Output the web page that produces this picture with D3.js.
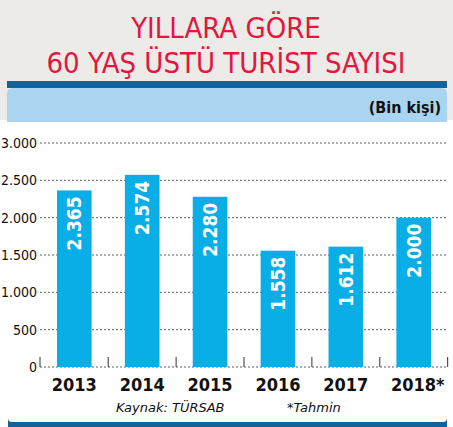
<!DOCTYPE html>
<html><head><meta charset="utf-8">
<script src="https://cdn.jsdelivr.net/npm/d3@7"></script>
<style>
body{margin:0;background:#fff;}
text{font-family:"Liberation Sans Narrow","DejaVu Sans Condensed",sans-serif;}
</style></head><body>
<div id="chart"></div>
<script>
var years = ['2013', '2014', '2015', '2016', '2017', '2018*'];
var values = [2365, 2574, 2280, 1558, 1612, 2000];
var labels = ['2.365', '2.574', '2.280', '1.558', '1.612', '2.000'];
var yTicks = [0, 500, 1000, 1500, 2000, 2500, 3000];
var yTickLabels = ['0', '500', '1.000', '1.500', '2.000', '2.500', '3.000'];

var W = 453, H = 427;
var margin = {top: 143, right: 5, bottom: 60, left: 40};
var width = W - margin.left - margin.right;
var height = 367 - margin.top;

var svg = d3.select('#chart').append('svg').attr('width', W).attr('height', H);

// header
svg.append('rect').attr('x', 0).attr('y', 0).attr('width', W).attr('height', 120).attr('fill', '#ecebe8');
svg.append('rect').attr('x', 7).attr('y', 81).attr('width', 440).attr('height', 7).attr('fill', '#13629a');
svg.append('path').attr('d', 'M7,122 V94 Q7,88 13,88 H441 Q447,88 447,94 V122 Z').attr('fill', '#a9d5f0');
svg.append('text').attr('x', 226).attr('y', 38).attr('text-anchor', 'middle')
  .style('font-size', '29px').style('fill', '#e3163f').text('YILLARA GÖRE');
svg.append('text').attr('x', 226).attr('y', 73).attr('text-anchor', 'middle')
  .style('font-size', '29px').style('fill', '#e3163f').text('60 YAŞ ÜSTÜ TURİST SAYISI');
svg.append('text').attr('x', 441).attr('y', 113).attr('text-anchor', 'end')
  .style('font-size', '16px').style('font-weight', 'bold').style('fill', '#111').text('(Bin kişi)');
svg.append('rect').attr('x', 0).attr('y', 122).attr('width', W).attr('height', H - 122).attr('fill', '#fff');

var g = svg.append('g').attr('transform', 'translate(' + margin.left + ',' + margin.top + ')');

var x = d3.scaleBand().domain(years).range([0, width]).paddingInner(0.49).paddingOuter(0.25);
var y = d3.scaleLinear().domain([0, 3000]).range([height, 0]);

// gridlines
g.selectAll('.grid').data(yTicks).enter().append('line')
  .attr('x1', 0).attr('x2', width).attr('y1', function (d) { return y(d); }).attr('y2', function (d) { return y(d); })
  .style('stroke', '#333').style('stroke-width', 0.8).style('stroke-dasharray', '2,2');

g.selectAll('.ylab').data(yTicks).enter().append('text')
  .attr('x', -3).attr('y', function (d) { return y(d) + 5; }).attr('text-anchor', 'end')
  .style('font-size', '14px').style('fill', '#111')
  .text(function (d, i) { return yTickLabels[i]; });

// bars
g.selectAll('.bar').data(values).enter().append('rect')
  .attr('x', function (d, i) { return x(years[i]); })
  .attr('width', x.bandwidth())
  .attr('y', function (d) { return y(d); })
  .attr('height', function (d) { return height - y(d); })
  .attr('fill', '#0aaee6');

g.selectAll('.val').data(values).enter().append('text')
  .attr('transform', function (d, i) {
    return 'translate(' + (x(years[i]) + x.bandwidth() / 2 + 7) + ',' + (y(d) + 6) + ') rotate(-90)';
  })
  .attr('text-anchor', 'end')
  .style('font-size', '19px').style('font-weight', 'bold').style('fill', '#fff')
  .text(function (d, i) { return labels[i]; });

// axis lines and ticks
g.append('line').attr('x1', 0).attr('x2', 0).attr('y1', height - 10).attr('y2', height).style('stroke', '#333');
var step = x.step();
years.forEach(function (d, i) {
  var tx = x(d) + x.bandwidth() + (step - x.bandwidth()) / 2;
  g.append('line').attr('x1', tx).attr('x2', tx).attr('y1', height - 10).attr('y2', height).style('stroke', '#333');
});

g.selectAll('.xlab').data(years).enter().append('text')
  .attr('x', function (d) { return x(d) + x.bandwidth() / 2 + (d.indexOf('*') > 0 ? 4 : 0); })
  .attr('y', height + 24).attr('text-anchor', 'middle')
  .style('font-size', '18px').style('font-weight', 'bold').style('fill', '#111')
  .text(function (d) { return d; });

// footer
svg.append('text').attr('x', 116).attr('y', 412).style('font-size', '13px').style('font-style', 'italic')
  .style('font-family', '"DejaVu Sans", sans-serif').style('fill', '#111').text('Kaynak: TÜRSAB');
svg.append('text').attr('x', 287).attr('y', 412).style('font-size', '13px').style('font-style', 'italic')
  .style('font-family', '"DejaVu Sans", sans-serif').style('fill', '#111').text('*Tahmin');
svg.append('path').attr('d', 'M8,418 Q8,422 12,422 H443 Q447,422 447,418 V427 H8 Z').attr('fill', '#13629a');
</script>
</body></html>
